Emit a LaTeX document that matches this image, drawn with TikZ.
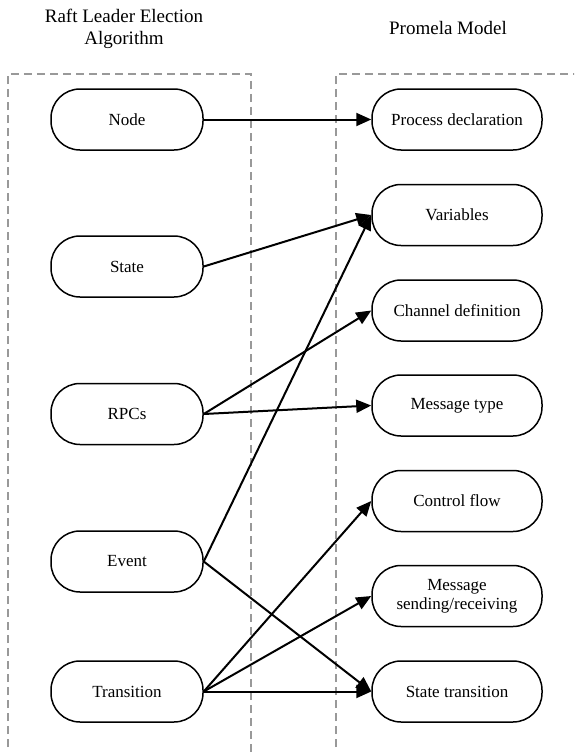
\documentclass[tikz,border=0pt]{standalone}
\usepackage{fontspec}
\setmainfont{Liberation Serif}
\usetikzlibrary{arrows.meta}
\begin{document}
\begin{tikzpicture}[x=1pt,y=-1pt,
  pill/.style={draw=black, line width=1.5pt, rounded corners=29pt, inner sep=0pt,
    minimum height=61pt, align=center, font=\fontsize{17}{19}\selectfont},
  lbox/.style={pill, minimum width=152pt},
  rbox/.style={pill, minimum width=170pt},
  conn/.style={line width=2pt, -{Triangle[length=15pt,width=13pt]}},
  frame/.style={draw=black!40, line width=1.1pt, dash pattern=on 8pt off 5pt},
  title/.style={align=center, font=\fontsize{19}{22}\selectfont}]
\useasboundingbox (0,0) rectangle (574,752);
\begin{scope}
\clip (0,0) rectangle (574,752);
\draw[frame] (8,760) -- (8,74) -- (251,74) -- (251,760);
\draw[frame] (336,760) -- (336,74) -- (580,74);
\end{scope}
\node[title] (t1) at (124,29) {Raft Leader Election\\Algorithm};
\node[title] (t2) at (448,28) {Promela Model};
\node[lbox] (node) at (127,119.5) {Node};
\node[lbox] (state) at (127,266.5) {State};
\node[lbox] (rpcs) at (127,414) {RPCs};
\node[lbox] (event) at (127,561.5) {Event};
\node[lbox] (trans) at (127,691.5) {Transition};
\node[rbox] (proc) at (457,119.5) {Process declaration};
\node[rbox] (vars) at (457,215) {Variables};
\node[rbox] (chan) at (457,310.5) {Channel definition};
\node[rbox] (msgt) at (457,405.5) {Message type};
\node[rbox] (ctrl) at (457,501) {Control flow};
\node[rbox] (msgs) at (457,596) {Message\\sending/receiving};
\node[rbox] (stt) at (457,691.5) {State transition};
\draw[conn] (node.east) -- (proc.west);
\draw[conn] (state.east) -- (vars.west);
\draw[conn] (event.east) -- (vars.west);
\draw[conn] (rpcs.east) -- (chan.west);
\draw[conn] (rpcs.east) -- (msgt.west);
\draw[conn] (event.east) -- (stt.west);
\draw[conn] (trans.east) -- (ctrl.west);
\draw[conn] (trans.east) -- (msgs.west);
\draw[conn] (trans.east) -- (stt.west);
\end{tikzpicture}
\end{document}
